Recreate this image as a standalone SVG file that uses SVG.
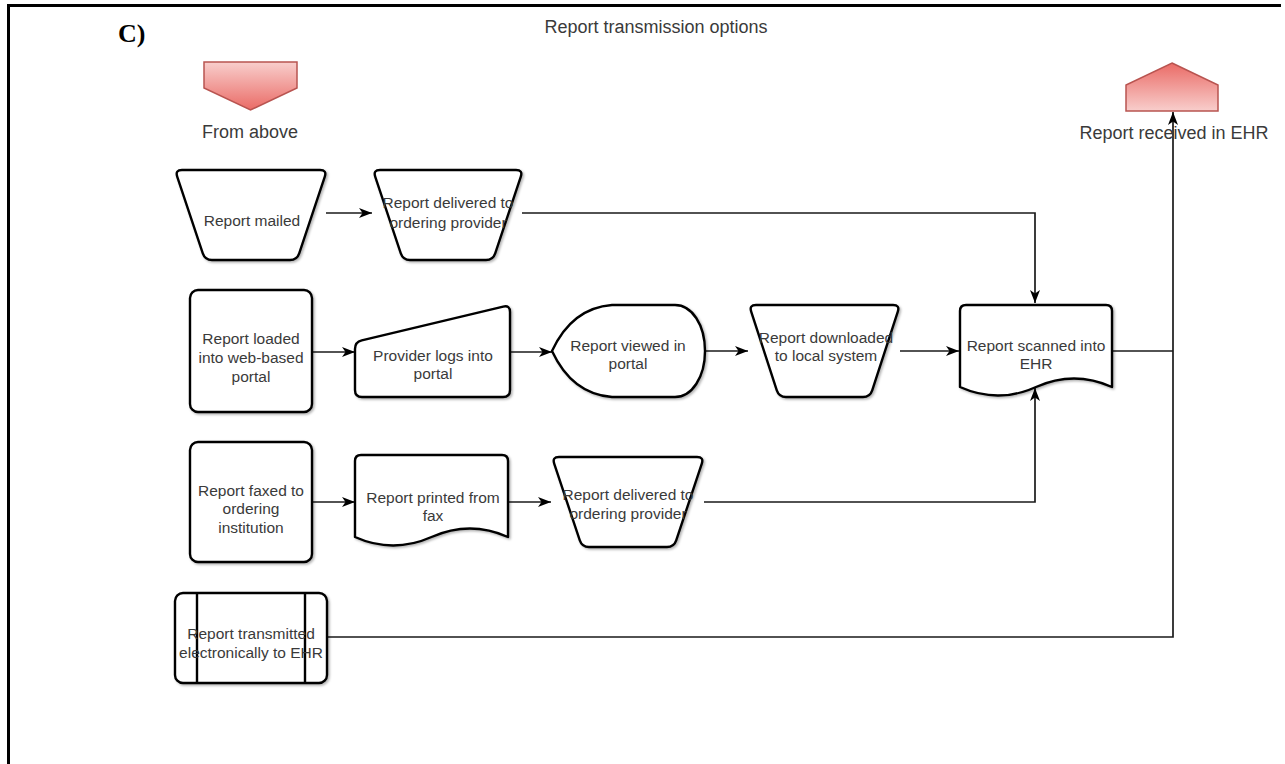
<svg xmlns="http://www.w3.org/2000/svg" width="1285" height="764" viewBox="0 0 1285 764">
  <defs>
    <linearGradient id="pinkDown" x1="0" y1="0" x2="0" y2="1">
      <stop offset="0" stop-color="#f8cecc"/>
      <stop offset="1" stop-color="#ea6b66"/>
    </linearGradient>
    <linearGradient id="pinkUp" x1="0" y1="0" x2="0" y2="1">
      <stop offset="0" stop-color="#ea6b66"/>
      <stop offset="1" stop-color="#f8cecc"/>
    </linearGradient>
    <filter id="shadow" x="-10%" y="-10%" width="130%" height="130%">
      <feDropShadow dx="1.5" dy="1.5" stdDeviation="0.8" flood-color="#000" flood-opacity="0.3"/>
    </filter>
    <marker id="arrow" markerUnits="userSpaceOnUse" markerWidth="14" markerHeight="12" refX="13" refY="5" orient="auto">
      <path d="M0,0 L13,5 L0,10 L3.5,5 Z" fill="#000"/>
    </marker>
    <style>
      .frame { fill: none; stroke: #000; stroke-width: 3; }
      .node { fill: #fff; stroke: #000; stroke-width: 2.4; stroke-linejoin: round; filter: url(#shadow); }
      .term { stroke: #b85450; stroke-width: 1.5; }
      .edge { fill: none; stroke: #1a1a1a; stroke-width: 1.7; }
      .arr { marker-end: url(#arrow); }
      .lbl { font-family: "Liberation Sans", Arial, sans-serif; font-size: 15.5px; fill: #3a3a3a; text-anchor: middle; }
      .big { font-family: "Liberation Sans", Arial, sans-serif; font-size: 18px; fill: #3a3a3a; text-anchor: middle; }
      .tag { font-family: "Liberation Serif", "Times New Roman", serif; font-size: 26px; font-weight: bold; fill: #000; }
    </style>
  </defs>

  <rect width="1285" height="764" fill="#fff"/>
  <path class="frame" d="M8.5,764 V5.5 H1281"/>

  <text class="tag" x="118" y="42">C)</text>
  <text class="big" x="656" y="33">Report transmission options</text>

  <!-- connectors -->
  <g id="connectors">
    <path class="edge arr" d="M326,213 H372"/>
    <path class="edge arr" d="M522,213 H1035 V303"/>
    <path class="edge arr" d="M312,352 H355"/>
    <path class="edge arr" d="M510,352 H552"/>
    <path class="edge arr" d="M705,351 H748"/>
    <path class="edge arr" d="M900,351 H959"/>
    <path class="edge" d="M1112,351 H1173"/>
    <path class="edge arr" d="M312,502 H355"/>
    <path class="edge arr" d="M508,502 H551"/>
    <path class="edge arr" d="M704,502 H1035 V388"/>
    <path class="edge arr" d="M327,637 H1173 V112"/>
  </g>

  <!-- start terminator -->
  <g id="from-above">
    <path class="term" fill="url(#pinkDown)" d="M204,62 H297 V88 L250.5,110 L204,88 Z"/>
    <text class="big" x="250" y="138">From above</text>
  </g>

  <!-- end terminator -->
  <g id="received-in-ehr">
    <path class="term" fill="url(#pinkUp)" d="M1172,63 L1218,85 V111 H1126 V85 Z"/>
    <text class="big" x="1174" y="139">Report received in EHR</text>
  </g>

  <!-- row 1: mail -->
  <g id="report-mailed">
    <path class="node" d="M182,170 H320 Q327,170 324.8,176.6 L299.2,253.4 Q297,260 290,260 H212 Q205,260 202.8,253.4 L177.2,176.6 Q175,170 182,170 Z"/>
    <text class="lbl" x="252" y="225.5">Report mailed</text>
  </g>
  <g id="mail-delivered">
    <path class="node" d="M380,170 H516 Q523,170 520.8,176.6 L495.2,253.4 Q493,260 486,260 H410 Q403,260 400.8,253.4 L375.2,176.6 Q373,170 380,170 Z"/>
    <text class="lbl" x="448" y="207.5">Report delivered to</text>
    <text class="lbl" x="448" y="227.5">ordering provider</text>
  </g>

  <!-- row 2: portal -->
  <g id="portal-loaded">
    <rect class="node" x="190" y="290" width="122" height="122" rx="8"/>
    <text class="lbl" x="251" y="343.5">Report loaded</text>
    <text class="lbl" x="251" y="362.5">into web-based</text>
    <text class="lbl" x="251" y="381.5">portal</text>
  </g>
  <g id="provider-logs-in">
    <path class="node" d="M355,349 Q355,342 361.8,340.4 L503.2,306.6 Q510,305 510,312 V390 Q510,397 503,397 H362 Q355,397 355,390 Z"/>
    <text class="lbl" x="433" y="360.5">Provider logs into</text>
    <text class="lbl" x="433" y="378.5">portal</text>
  </g>
  <g id="viewed-in-portal">
    <path class="node" d="M552,351 Q572,308 612,305 H675 C692,305 705,325 705,351 C705,377 692,397 675,397 H612 Q572,394 552,351 Z"/>
    <text class="lbl" x="628" y="350.5">Report viewed in</text>
    <text class="lbl" x="628" y="368.5">portal</text>
  </g>
  <g id="downloaded">
    <path class="node" d="M756,305 H893 Q900,305 897.8,311.6 L872.2,390.4 Q870,397 863,397 H786 Q779,397 776.8,390.4 L751.2,311.6 Q749,305 756,305 Z"/>
    <text class="lbl" x="826" y="342.5">Report downloaded</text>
    <text class="lbl" x="826" y="360.5">to local system</text>
  </g>
  <g id="scanned-into-ehr">
    <path class="node" d="M960,311 Q960,305 966,305 H1106 Q1112,305 1112,311 V387 Q1074,370 1036,387 Q998,404 960,387 Z"/>
    <text class="lbl" x="1036" y="350.5">Report scanned into</text>
    <text class="lbl" x="1036" y="368.5">EHR</text>
  </g>

  <!-- row 3: fax -->
  <g id="faxed">
    <rect class="node" x="190" y="442" width="122" height="120" rx="8"/>
    <text class="lbl" x="251" y="495.5">Report faxed to</text>
    <text class="lbl" x="251" y="514">ordering</text>
    <text class="lbl" x="251" y="532.5">institution</text>
  </g>
  <g id="printed-from-fax">
    <path class="node" d="M355,461 Q355,455 361,455 H502 Q508,455 508,461 V537 Q470,520 431.5,537 Q393,554 355,537 Z"/>
    <text class="lbl" x="433" y="502.5">Report printed from</text>
    <text class="lbl" x="433" y="520.5">fax</text>
  </g>
  <g id="fax-delivered">
    <path class="node" d="M559,457 H697 Q704,457 701.8,463.6 L676.2,540.4 Q674,547 667,547 H589 Q582,547 579.8,540.4 L554.2,463.6 Q552,457 559,457 Z"/>
    <text class="lbl" x="628" y="499.5">Report delivered to</text>
    <text class="lbl" x="628" y="519">ordering provider</text>
  </g>

  <!-- row 4: electronic -->
  <g id="transmitted-electronically">
    <rect class="node" x="175" y="593" width="152" height="90" rx="8"/>
    <path d="M197,593 V683 M305,593 V683" fill="none" stroke="#000" stroke-width="2.4"/>
    <text class="lbl" x="251" y="638.5">Report transmitted</text>
    <text class="lbl" x="251" y="657.5">electronically to EHR</text>
  </g>
</svg>
